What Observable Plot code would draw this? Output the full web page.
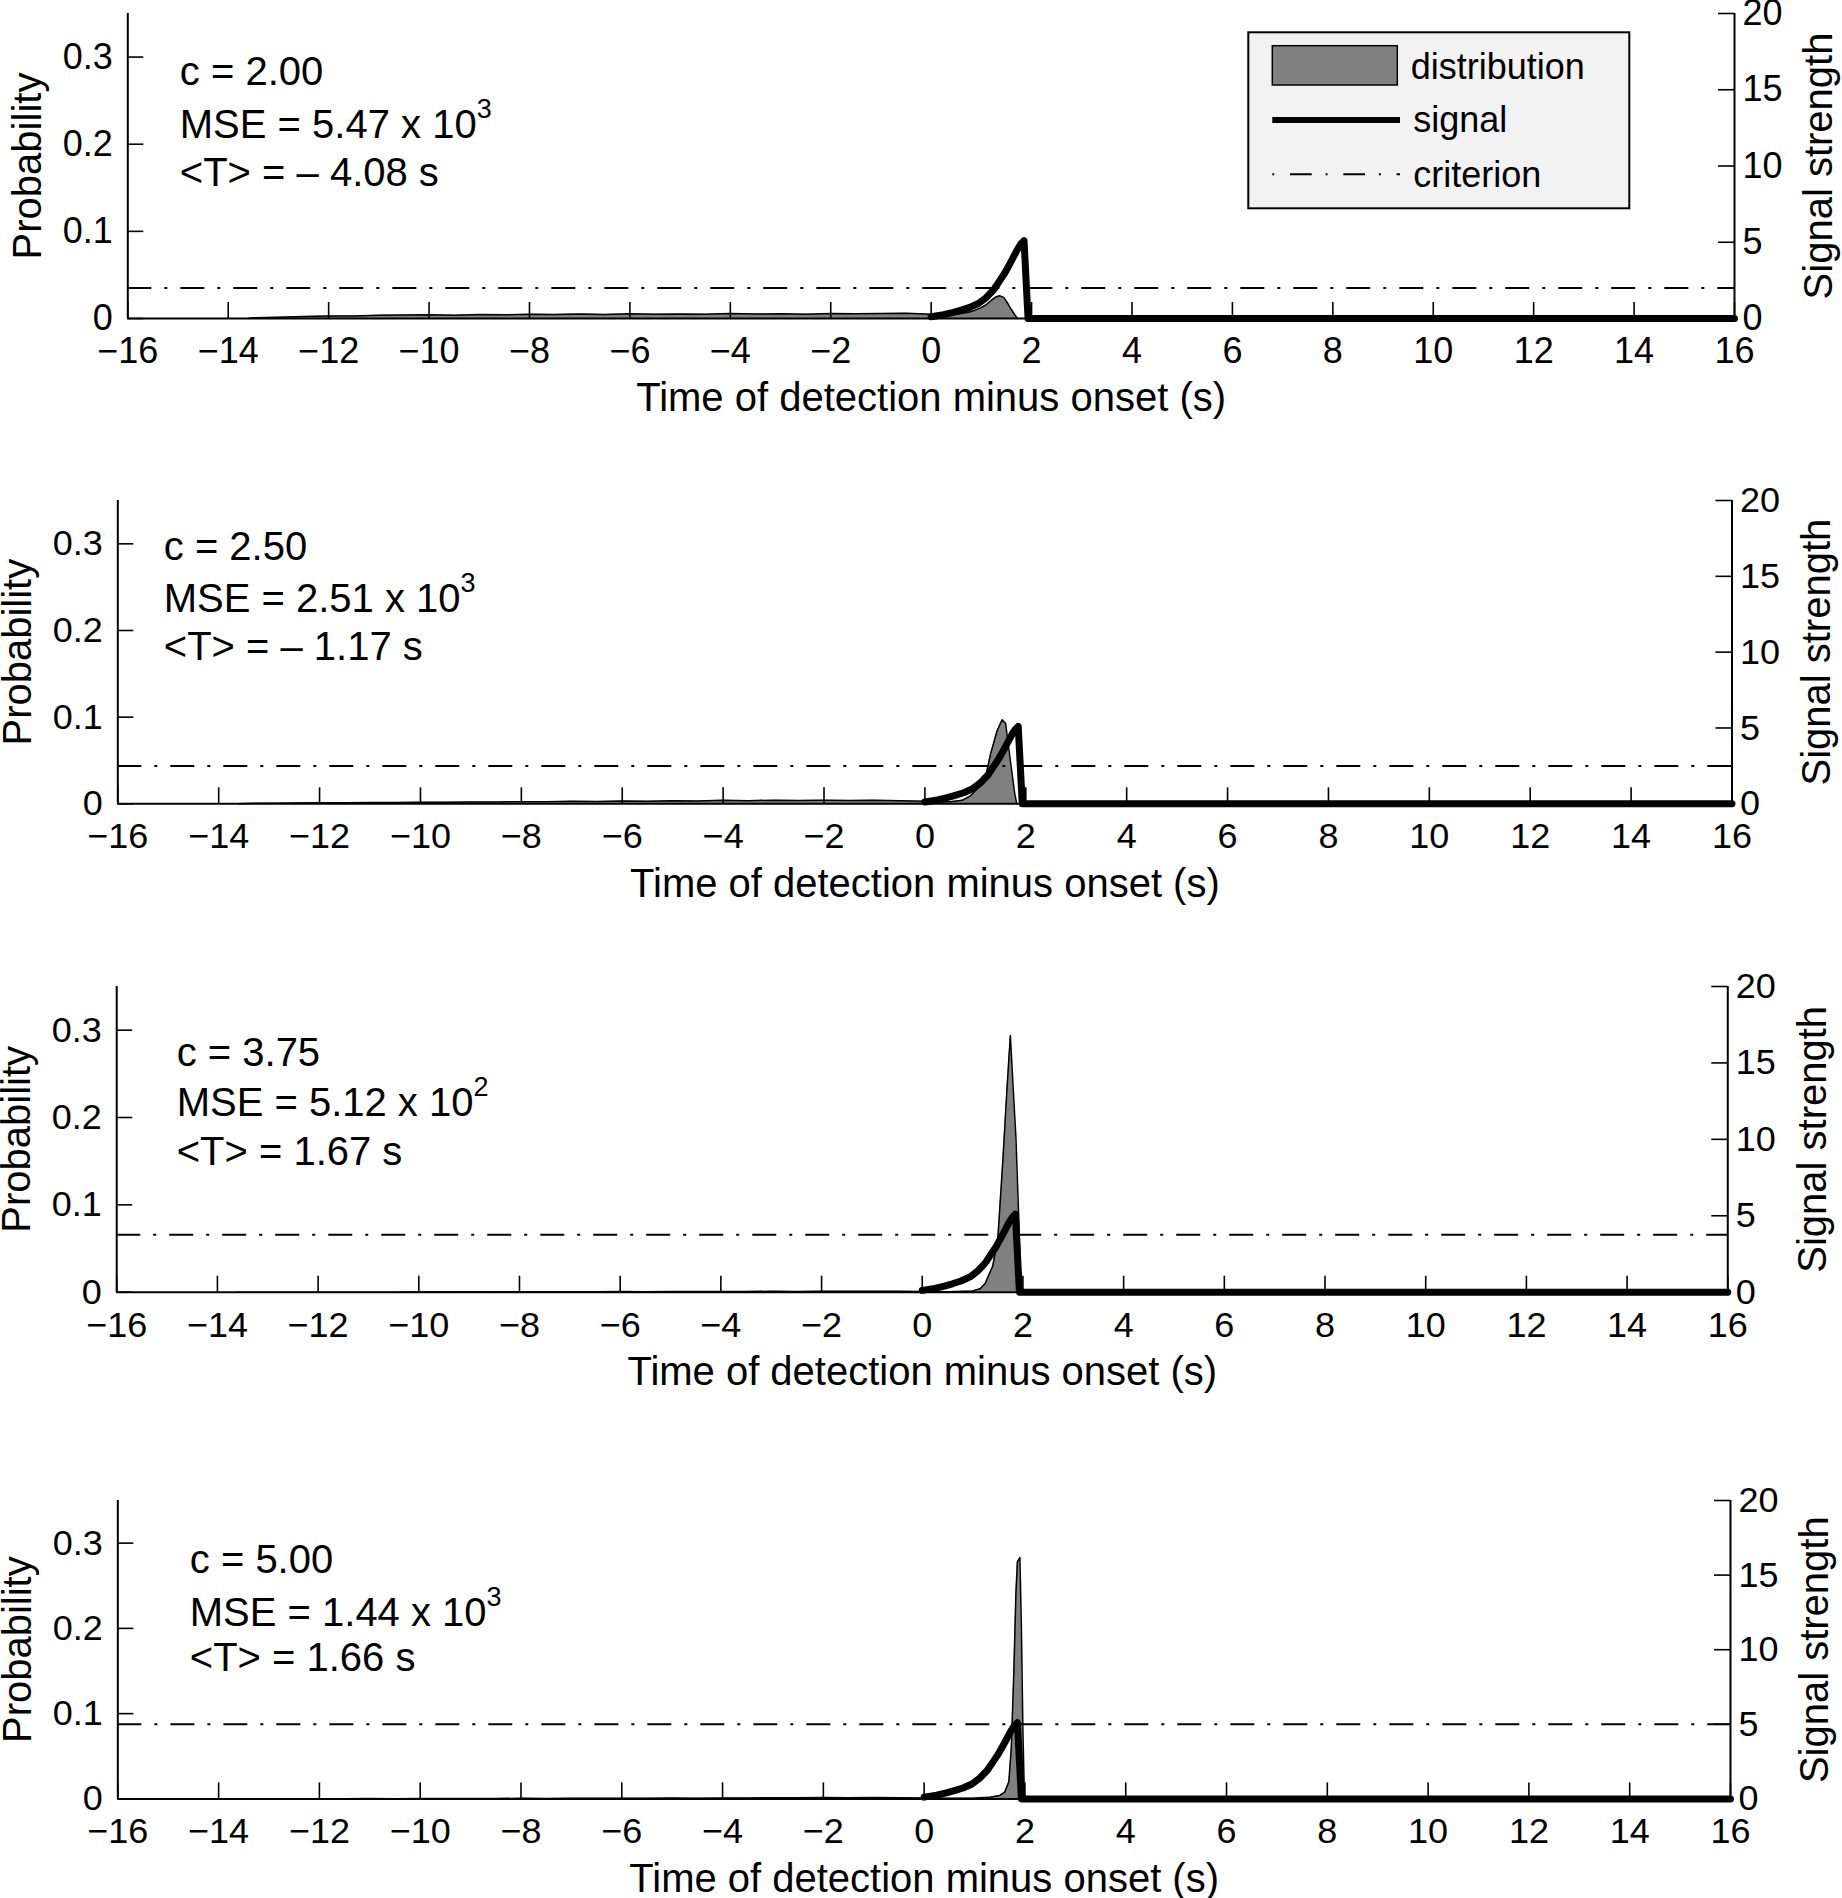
<!DOCTYPE html>
<html>
<head>
<meta charset="utf-8">
<script src="https://cdn.jsdelivr.net/npm/d3@7"></script>
<script src="https://cdn.jsdelivr.net/npm/@observablehq/plot@0.6"></script>
<style>
html, body { margin: 0; padding: 0; background: #fff; }
#wrap { position: relative; width: 1842px; height: 1898px; overflow: hidden; font-family: "Liberation Sans", Arial, sans-serif; }
#wrap svg { position: absolute; }
</style>
</head>
<body>
<div id="wrap"></div>
<script>
// ---------- data ----------
const xTicks = [-16, -14, -12, -10, -8, -6, -4, -2, 0, 2, 4, 6, 8, 10, 12, 14, 16];
const probTicks = [0, 0.1, 0.2, 0.3];
const signalTicks = [0, 5, 10, 15, 20];
const probMax = 0.35;
const signalMax = 20;

const criteria = [2.00, 2.50, 3.75, 5.00];
const mseMantissa = ["5.47", "2.51", "5.12", "1.44"];
const mseExponent = ["3", "3", "2", "3"];
const meanT = ["\u2013 4.08", "\u2013 1.17", "1.67", "1.66"];

// early (pre-onset) part of each detection-time distribution
const tailTimes = [-13.6, -13.5, -13, -12.5, -12, -11.5, -11, -10.5, -10, -9.5, -9, -8.5, -8, -7.5, -7, -6.5, -6, -5.5, -5, -4.5, -4, -3.5, -3, -2.5, -2, -1.5, -1, -0.5, 0];
const tail1 = [0, 0.0008, 0.0015, 0.0022, 0.0030, 0.0028, 0.0036, 0.0040, 0.0043, 0.0038, 0.0045, 0.0042, 0.0048, 0.0045, 0.0052, 0.0047, 0.0055, 0.0050, 0.0053, 0.0049, 0.0057, 0.0052, 0.0055, 0.0050, 0.0058, 0.0054, 0.0056, 0.0060, 0.0050];
const tail2 = [0, 0.0004, 0.0007, 0.0010, 0.0013, 0.0011, 0.0016, 0.0014, 0.0019, 0.0017, 0.0022, 0.0020, 0.0025, 0.0023, 0.0028, 0.0026, 0.0031, 0.0029, 0.0034, 0.0032, 0.0040, 0.0036, 0.0042, 0.0038, 0.0041, 0.0039, 0.0042, 0.0036, 0.0030];
const tail3 = [0, 0, 0, 0, 0, 0, 0, 0, 0.0001, 0.0002, 0.0004, 0.0003, 0.0005, 0.0004, 0.0006, 0.0005, 0.0007, 0.0006, 0.0008, 0.0007, 0.0009, 0.0008, 0.0010, 0.0009, 0.0011, 0.0010, 0.0012, 0.0010, 0.0008];
const tail4 = [0, 0, 0, 0.0001, 0.0002, 0.0003, 0.0004, 0.0003, 0.0005, 0.0004, 0.0006, 0.0005, 0.0007, 0.0006, 0.0008, 0.0007, 0.0009, 0.0008, 0.0010, 0.0009, 0.0011, 0.0010, 0.0014, 0.0012, 0.0016, 0.0013, 0.0015, 0.0012, 0.0010];

// post-onset peak of each distribution
const peakTimes1 = [0.25, 0.5, 0.7, 0.85, 1.0, 1.1, 1.2, 1.3, 1.37, 1.45, 1.52, 1.6, 1.67, 1.72];
const peakProb1  = [0.0045, 0.0050, 0.0065, 0.009, 0.0125, 0.016, 0.021, 0.025, 0.026, 0.024, 0.018, 0.010, 0.004, 0];
const peakTimes2 = [0.25, 0.5, 0.74, 0.9, 1.0, 1.1, 1.2, 1.3, 1.43, 1.53, 1.6, 1.66, 1.73, 1.78, 1.82];
const peakProb2  = [0.0025, 0.0025, 0.004, 0.009, 0.015, 0.021, 0.030, 0.057, 0.084, 0.097, 0.093, 0.065, 0.034, 0.012, 0];
const peakTimes3 = [0.5, 1.0, 1.15, 1.25, 1.4, 1.5, 1.6, 1.68, 1.75, 1.8, 1.86, 1.92, 1.96];
const peakProb3  = [0.0006, 0.0015, 0.004, 0.010, 0.030, 0.060, 0.150, 0.230, 0.294, 0.240, 0.178, 0.080, 0];
const peakTimes4 = [0.5, 1.0, 1.3, 1.5, 1.6, 1.68, 1.73, 1.78, 1.82, 1.85, 1.9, 1.93, 1.96, 1.99];
const peakProb4  = [0.0008, 0.001, 0.002, 0.004, 0.008, 0.020, 0.060, 0.150, 0.240, 0.278, 0.283, 0.200, 0.080, 0];

// signal strength (same in all panels)
const signalTimes  = [0, 0.25, 0.44, 0.6, 0.77, 0.95, 1.10, 1.25, 1.37, 1.47, 1.57, 1.65, 1.73, 1.79, 1.85, 1.93, 16];
const signalValues = [0.12, 0.25, 0.4, 0.55, 0.73, 1.0, 1.38, 1.9, 2.5, 3.0, 3.6, 4.1, 4.6, 4.9, 5.1, 0, 0];

// ---------- layout (pixels) ----------
const tails = [tail1, tail2, tail3, tail4];
const peakTimes = [peakTimes1, peakTimes2, peakTimes3, peakTimes4];
const peakProbs = [peakProb1, peakProb2, peakProb3, peakProb4];
const boxes = [
  {L: 127.3, R: 1734.0, T: 12.7,   B: 317.7},
  {L: 117.3, R: 1731.5, T: 500.0,  B: 803.3},
  {L: 116.2, R: 1727.3, T: 986.0,  B: 1291.7},
  {L: 117.3, R: 1730.0, T: 1500.3, B: 1798.7}
];
const annot = [
  {dx: 52, y: [59, 112, 160]},
  {dx: 46, y: [47, 99, 147]},
  {dx: 60, y: [67, 117, 166]},
  {dx: 72, y: [60, 113, 158]}
];

const k = probMax / signalMax;
const FONT = "Liberation Sans, Arial, sans-serif";
const fmtX = d => d < 0 ? "\u2212" + (-d) : String(d);
const wrap = document.getElementById("wrap");

boxes.forEach((box, i) => {
  const mt = 20, mb = 110;
  const fw = box.R - box.L, fh = box.B - box.T;
  const dist = tailTimes.map((t, j) => ({t, p: tails[i][j]}))
    .concat(peakTimes[i].map((t, j) => ({t, p: peakProbs[i][j]})));
  const sig = signalTimes.map((t, j) => ({t, s: signalValues[j]}));
  const a = annot[i];
  const note = (s, line) => Plot.text([s], {frameAnchor: "top-left", lineAnchor: "middle", textAnchor: "start", dx: a.dx, dy: a.y[line], fontSize: 40});
  const svg = Plot.plot({
    width: 1842,
    height: fh + mt + mb,
    marginLeft: box.L,
    marginRight: 1842 - box.R,
    marginTop: mt,
    marginBottom: mb,
    x: {domain: [-16, 16]},
    y: {domain: [0, probMax]},
    style: {fontFamily: FONT, background: "transparent", color: "black", overflow: "visible"},
    marks: [
      Plot.areaY(dist, {x: "t", y: "p", fill: "#808080"}),
      Plot.lineY(dist, {x: "t", y: "p", stroke: "black", strokeWidth: 1.5}),
      Plot.ruleY([criteria[i] * k], {stroke: "black", strokeWidth: 2, strokeDasharray: "24,13,3,13"}),
      Plot.lineY(sig, {x: "t", y: d => d.s * k, stroke: "black", strokeWidth: 7, strokeLinejoin: "round"}),
      Plot.ruleY([0], {stroke: "black", strokeWidth: 2}),
      Plot.ruleX([-16, 16], {stroke: "black", strokeWidth: 2}),
      Plot.tickX(xTicks, {x: d => d, insetTop: fh - 16, stroke: "black", strokeWidth: 1.6}),
      Plot.tickY(probTicks, {y: d => d, insetRight: fw - 16, stroke: "black", strokeWidth: 1.6}),
      Plot.tickY(signalTicks, {y: d => d * k, insetLeft: fw - 16, stroke: "black", strokeWidth: 1.6}),
      Plot.axisX(xTicks, {tickSize: 0, tickPadding: 19, fontSize: 36, tickFormat: fmtX, label: null}),
      Plot.axisY(probTicks, {anchor: "left", tickSize: 0, tickPadding: 15, fontSize: 36, tickFormat: d => d === 0 ? "0" : d.toFixed(1), label: null}),
      Plot.axisY(signalTicks.map(v => v * k), {anchor: "right", tickSize: 0, tickPadding: 8, fontSize: 36, tickFormat: d => String(Math.round(d / k)), label: null}),
      Plot.text(["Time of detection minus onset (s)"], {frameAnchor: "bottom", lineAnchor: "middle", textAnchor: "middle", dy: 80, fontSize: 40}),
      Plot.text(["Probability"], {frameAnchor: "left", lineAnchor: "middle", textAnchor: "middle", rotate: -90, dx: -100, fontSize: 40}),
      Plot.text(["Signal strength"], {frameAnchor: "right", lineAnchor: "middle", textAnchor: "middle", rotate: -90, dx: 85, fontSize: 40}),
      note(`c = ${criteria[i].toFixed(2)}`, 0),
      note(`MSE = ${mseMantissa[i]} x 10`, 1),
      note(`<T> = ${meanT[i]} s`, 2)
    ]
  });
  svg.style.left = "0px";
  svg.style.top = (box.T - mt) + "px";
  // superscript exponent on the MSE line
  d3.select(svg).selectAll("text").each(function () {
    if (this.textContent.startsWith("MSE")) {
      d3.select(this).append("tspan").attr("dy", "-20").attr("font-size", 27).text(mseExponent[i]);
    }
  });
  wrap.appendChild(svg);
});

// ---------- legend (overlaid on the first panel) ----------
const lg = d3.select(wrap).append("svg")
  .attr("width", 400).attr("height", 200)
  .style("left", "1240px").style("top", "20px")
  .style("font-family", FONT);
lg.append("rect").attr("x", 8.3).attr("y", 12.3).attr("width", 381).attr("height", 176)
  .attr("fill", "#f2f2f2").attr("stroke", "black").attr("stroke-width", 2);
lg.append("rect").attr("x", 32.3).attr("y", 25.7).attr("width", 125).attr("height", 39.3)
  .attr("fill", "#808080").attr("stroke", "black").attr("stroke-width", 1.5);
lg.append("line").attr("x1", 32.3).attr("x2", 160).attr("y1", 100).attr("y2", 100)
  .attr("stroke", "black").attr("stroke-width", 6);
lg.append("line").attr("x1", 32.3).attr("x2", 160).attr("y1", 154.3).attr("y2", 154.3)
  .attr("stroke", "black").attr("stroke-width", 2).attr("stroke-dasharray", "2,15.7,21.7,13.9");
const legendLabels = ["distribution", "signal", "criterion"];
const legendBaselines = [59.3, 111.7, 166.7];
const legendX = [170.7, 173.3, 173.3];
legendLabels.forEach((s, j) => {
  lg.append("text").attr("x", legendX[j]).attr("y", legendBaselines[j])
    .attr("font-size", 36).attr("fill", "black").text(s);
});
</script>
</body>
</html>
